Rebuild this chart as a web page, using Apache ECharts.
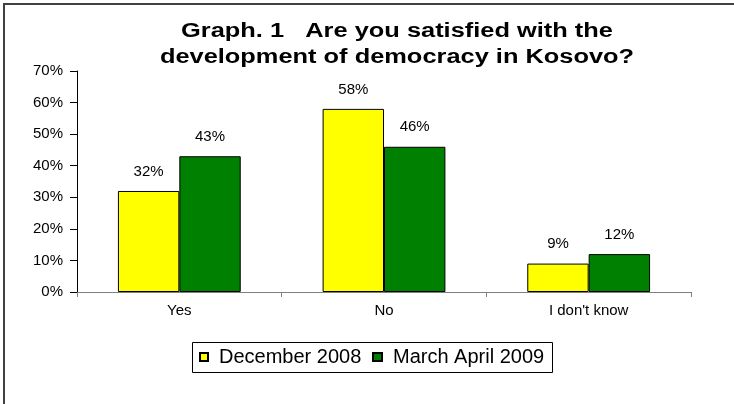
<!DOCTYPE html>
<html>
<head>
<meta charset="utf-8">
<script src="https://cdn.jsdelivr.net/npm/echarts@6/dist/echarts.min.js"></script>
<style>
  html, body { margin: 0; padding: 0; background: #fff; }
  #chart { width: 734px; height: 404px; }
</style>
</head>
<body>
<div id="chart"></div>
<script>
// Survey answers, in percent
const categories = ['Yes', 'No', "I don't know"];
const december2008 = [32, 58, 9];
const marchApril2009 = [43, 46, 12];
const seriesNames = ['December 2008', 'March April 2009'];
const titleLines = ['Graph. 1   Are you satisfied with the', 'development of democracy in Kosovo?'];

const FONT = 'Arial, "Liberation Sans", sans-serif';
const chart = echarts.init(document.getElementById('chart'), null, { renderer: 'canvas' });

const labelStyle = {
  show: true,
  position: 'top',
  distance: 12,
  formatter: '{c}%',
  color: '#000',
  fontSize: 15,
  fontFamily: FONT
};

chart.setOption({
  animation: false,
  backgroundColor: '#fff',
  grid: { left: 77, right: 43, top: 71, bottom: 112, containLabel: false },
  xAxis: {
    type: 'category',
    data: categories,
    axisLine: { lineStyle: { color: '#808080', width: 1 } },
    axisTick: { show: true, length: 5, lineStyle: { color: '#808080' } },
    axisLabel: { color: '#000', fontSize: 15, fontFamily: FONT, margin: 11 }
  },
  yAxis: {
    type: 'value',
    min: 0,
    max: 70,
    interval: 10,
    axisLine: { show: true, lineStyle: { color: '#000', width: 1 } },
    axisTick: { show: true, length: 7, lineStyle: { color: '#000' } },
    splitLine: { show: false },
    axisLabel: { formatter: '{value}%', color: '#000', fontSize: 15, fontFamily: FONT, margin: 14 }
  },
  legend: [
    {
      data: [seriesNames[0]],
      left: 199, top: 347, padding: 0,
      icon: 'rect', itemWidth: 8, itemHeight: 8,
      textStyle: { color: '#000', fontSize: 20, fontFamily: FONT, padding: [0, 0, 0, 6] }
    },
    {
      data: [seriesNames[1]],
      left: 372, top: 347, padding: 0,
      icon: 'rect', itemWidth: 9, itemHeight: 8,
      textStyle: { color: '#000', fontSize: 20, fontFamily: FONT, padding: [0, 0, 0, 6] }
    }
  ],
  series: [
    {
      name: seriesNames[0],
      type: 'bar',
      data: december2008,
      barGap: '0%',
      barCategoryGap: '40%',
      itemStyle: { color: '#ffff00', borderColor: '#000', borderWidth: 1 },
      label: labelStyle
    },
    {
      name: seriesNames[1],
      type: 'bar',
      data: marchApril2009,
      barGap: '0%',
      barCategoryGap: '40%',
      itemStyle: { color: '#008000', borderColor: '#000', borderWidth: 1 },
      label: labelStyle
    }
  ],
  graphic: [
    // outer frame (top and left edges)
    { type: 'line', shape: { x1: 3, y1: 4, x2: 734, y2: 4 }, style: { stroke: '#404040', lineWidth: 2 } },
    { type: 'line', shape: { x1: 4, y1: 3, x2: 4, y2: 404 }, style: { stroke: '#404040', lineWidth: 2 } },
    // legend frame
    { type: 'rect', shape: { x: 192.5, y: 342.5, width: 360, height: 30 }, style: { fill: 'none', stroke: '#000', lineWidth: 1 }, z: 1 },
    // title
    {
      type: 'text',
      x: 397, y: 18,
      scaleX: 1.27,
      style: {
        text: titleLines.join('\n'),
        font: 'bold 20px ' + FONT,
        fill: '#000',
        textAlign: 'center',
        textVerticalAlign: 'top',
        lineHeight: 26
      }
    }
  ]
});
</script>
</body>
</html>
